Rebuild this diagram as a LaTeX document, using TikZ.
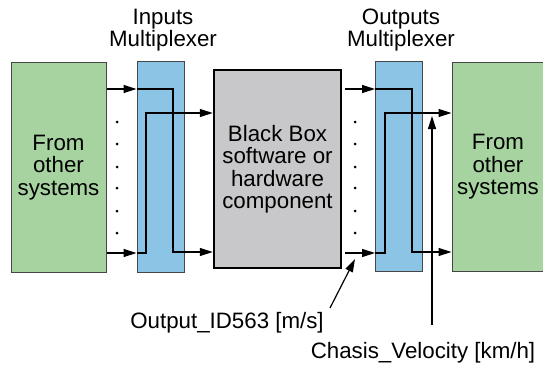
\documentclass[tikz,border=0pt]{standalone}
\usepackage{fontspec}
\setmainfont{Liberation Sans}
\usetikzlibrary{arrows.meta}
\definecolor{sysgreen}{RGB}{166,211,160}
\definecolor{muxblue}{RGB}{140,196,230}
\definecolor{bbgray}{RGB}{200,200,202}
\definecolor{edgegray}{RGB}{70,70,70}

\begin{document}
\begin{tikzpicture}[x=1pt,y=-1pt,
  every node/.style={font=\fontsize{22.3}{22.5}\selectfont,align=center,inner sep=0pt},
  sysbox/.style={draw=edgegray,fill=sysgreen,line width=1pt,minimum width=95pt,minimum height=209pt},
  muxbox/.style={draw=edgegray,fill=muxblue,line width=1pt,minimum width=47pt,minimum height=210pt},
  blackbox/.style={draw=black,fill=bbgray,line width=2.5pt,minimum width=127pt,minimum height=198pt},
  sig/.style={line width=1.2pt,-{Triangle[length=13pt,width=8pt]}}]
  \useasboundingbox (0,0) rectangle (543,369);
  \node[sysbox] (srcL) at (58.5,167.5) {From\\other\\systems};
  \node[muxbox] (inmux) at (160.5,167) {};
  \node[blackbox] (bbox) at (277.5,169) {Black Box\\software or\\hardware\\component};
  \node[muxbox] (outmux) at (399,166.5) {};
  \node[sysbox,minimum width=92pt] (srcR) at (498,167) {From\\other\\systems};
  \node (inlbl) at (163,30) {Inputs\\Multiplexer};
  \node (outlbl) at (401,30) {Outputs\\Multiplexer};
  \node (idlbl) at (227,323) {Output\_ID563 [m/s]};
  \node (vellbl) at (423,353) {Chasis\_Velocity [km/h]};
  \coordinate (bbout) at ([xshift=3pt]bbox.east);
  \coordinate (idtail) at (330,308);
  \coordinate (idtip) at (355,259);
  \coordinate (veltail) at (432,325);
  \coordinate (veltip) at (432,116);
  % inputs
  \draw[sig] (srcL.east |- 0,89) -- (inmux.west |- 0,89);
  \draw[sig] (inmux.west |- 0,89) -| (173,252) -- (bbox.west |- 0,252);
  \draw[sig] (srcL.east |- 0,253) -- (inmux.west |- 0,253);
  \draw[sig] (inmux.west |- 0,253) -| (146,113) -- (bbox.west |- 0,113);
  % outputs
  \draw[sig] (bbout |- 0,89) -- (outmux.west |- 0,89);
  \draw[sig] (outmux.west |- 0,89) -| (412,252) -- (srcR.west |- 0,252);
  \draw[sig] (bbout |- 0,253) -- (outmux.west |- 0,253);
  \draw[sig] (outmux.west |- 0,253) -| (385,113) -- (srcR.west |- 0,113);
  \foreach \y in {122,144,167,188,211,233} {
    \fill (117,\y) circle (1.5);
    \fill (355,\y) circle (1.5);
  }
  \draw[sig] (idtail) -- (idtip);
  \draw[sig] (veltail) -- (veltip);
\end{tikzpicture}
\end{document}
